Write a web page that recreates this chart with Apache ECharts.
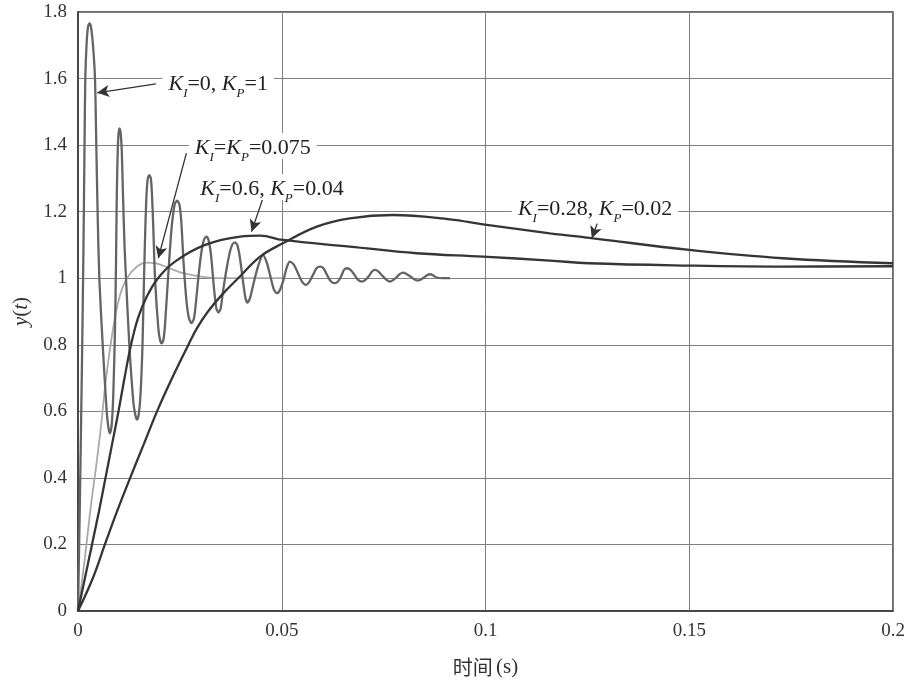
<!DOCTYPE html>
<html><head><meta charset="utf-8">
<script src="https://cdn.jsdelivr.net/npm/echarts@6/dist/echarts.min.js"></script>
<style>html,body{margin:0;padding:0;background:#fff}#c{width:912px;height:684px}</style>
</head><body><div id="c"></div>
<script>
// Axis ticks
const xTicks = [0, 0.05, 0.1, 0.15, 0.2];
const yTicks = [0, 0.2, 0.4, 0.6, 0.8, 1, 1.2, 1.4, 1.6, 1.8];

// K_I=0, K_P=1 (oscillating response)
const tA = [0, 0.00049, 0.00098, 0.00135, 0.00160, 0.00179, 0.00209, 0.00245, 0.00282, 0.00319,
  0.00368, 0.00417, 0.00449, 0.00481, 0.00523, 0.00606, 0.00704, 0.00748, 0.00785, 0.00827,
  0.00866, 0.00908, 0.00933, 0.00952, 0.00974, 0.00996, 0.01021, 0.01048, 0.01075, 0.01104,
  0.01141, 0.01178, 0.01259, 0.01357, 0.01406, 0.01448, 0.01490, 0.01534, 0.01583, 0.01620,
  0.01652, 0.01681, 0.01713, 0.01750, 0.01787, 0.01816, 0.01848, 0.01890, 0.01971, 0.02012,
  0.02054, 0.02096, 0.02135, 0.02209, 0.02282, 0.02331, 0.02380, 0.02437, 0.02491, 0.02535,
  0.02589, 0.02663, 0.02724, 0.02785, 0.02847, 0.02896, 0.02969, 0.03043, 0.03099, 0.03153,
  0.03207, 0.03264, 0.03337, 0.03394, 0.03448, 0.03502, 0.03558, 0.03649, 0.03730, 0.03791,
  0.03853, 0.03914, 0.03975, 0.04061, 0.04110, 0.04160, 0.04221, 0.04319, 0.04429, 0.04540,
  0.04638, 0.04712, 0.04810, 0.04883, 0.04957, 0.05043, 0.05129, 0.05202, 0.05301, 0.05399,
  0.05497, 0.05595, 0.05681, 0.05767, 0.05853, 0.05939, 0.06025, 0.06110, 0.06209, 0.06294,
  0.06380, 0.06454, 0.06528, 0.06601, 0.06687, 0.06785, 0.06871, 0.06969, 0.07055, 0.07129,
  0.07215, 0.07288, 0.07374, 0.07472, 0.07571, 0.07656, 0.07742, 0.07816, 0.07902, 0.07976,
  0.08061, 0.08160, 0.08258, 0.08344, 0.08417, 0.08491, 0.08564, 0.08638, 0.08712, 0.08785,
  0.08933, 0.09129];
const yA = [0, 0.35, 0.75, 1.1, 1.4, 1.6, 1.7, 1.755, 1.766, 1.755,
  1.7, 1.6, 1.4, 1.2, 1.0, 0.8, 0.6, 0.55, 0.534, 0.56,
  0.65, 0.85, 1.05, 1.25, 1.38, 1.435, 1.45, 1.435, 1.38, 1.25,
  1.1, 1.0, 0.8, 0.63, 0.59, 0.575, 0.59, 0.65, 0.8, 1.0,
  1.15, 1.25, 1.3, 1.31, 1.3, 1.25, 1.15, 1.0, 0.85, 0.815,
  0.804, 0.815, 0.86, 1.0, 1.13, 1.19, 1.225, 1.233, 1.22, 1.17,
  1.05, 0.93, 0.88, 0.865, 0.88, 0.93, 1.02, 1.09, 1.118, 1.125,
  1.113, 1.07, 0.97, 0.91, 0.897, 0.91, 0.96, 1.03, 1.08, 1.102,
  1.108, 1.098, 1.06, 0.98, 0.94, 0.927, 0.94, 0.99, 1.04, 1.07,
  1.045, 1.01, 0.965, 0.955, 0.965, 0.995, 1.035, 1.05, 1.04, 1.015,
  0.99, 0.98, 0.99, 1.01, 1.03, 1.035, 1.03, 1.01, 0.99, 0.985,
  0.99, 1.005, 1.025, 1.03, 1.025, 1.01, 0.995, 0.99, 0.995, 1.005,
  1.02, 1.025, 1.02, 1.007, 0.995, 0.99, 0.995, 1.003, 1.013, 1.017,
  1.013, 1.005, 0.996, 0.993, 0.996, 1.002, 1.009, 1.012, 1.009, 1.003,
  1.0, 1.0];

// K_I=K_P=0.075
const tB = [0, 0.0015, 0.003, 0.0045, 0.0056, 0.0068, 0.0085, 0.0101, 0.012, 0.0145, 0.0168, 0.019, 0.0225, 0.0258, 0.03, 0.035, 0.05];
const yB = [0, 0.14, 0.3, 0.44, 0.55, 0.69, 0.84, 0.94, 1.0, 1.035, 1.047, 1.045, 1.03, 1.015, 1.005, 1.0, 1.0];

// K_I=0.6, K_P=0.04
const tC = [0, 0.00172, 0.00344, 0.00515, 0.00675, 0.00834, 0.00994, 0.01141, 0.01301, 0.01472, 0.01669, 0.01963, 0.0238, 0.0312, 0.0398, 0.0447, 0.0503, 0.0667, 0.0831, 0.0994, 0.1158, 0.1254, 0.15, 0.173, 0.2];
const yC = [0, 0.1, 0.2, 0.3, 0.4, 0.5, 0.6, 0.7, 0.8, 0.88, 0.94, 1.0, 1.05, 1.1, 1.125, 1.128, 1.115, 1.095, 1.075, 1.065, 1.053, 1.045, 1.038, 1.035, 1.036];

// K_I=0.28, K_P=0.02
const tD = [0, 0.00368, 0.0066, 0.0096, 0.0128, 0.0161, 0.0194, 0.0231, 0.0271, 0.0292, 0.0319, 0.0353, 0.0393, 0.0447, 0.0503, 0.0586, 0.0667, 0.0773, 0.0913, 0.0994, 0.1158, 0.1264, 0.15, 0.173, 0.2];
const yD = [0, 0.1, 0.2, 0.3, 0.4, 0.5, 0.6, 0.7, 0.8, 0.85, 0.9, 0.95, 1.0, 1.065, 1.105, 1.155, 1.18, 1.19, 1.177, 1.162, 1.135, 1.12, 1.085, 1.06, 1.045];

const pairs = (t, y) => t.map((v, i) => [v, y[i]]);

const serif = '"Liberation Serif", "DejaVu Serif", serif';
const rich = {
  k: {fontFamily: serif, fontStyle: 'italic', fontSize: 22, color: '#222', lineHeight: 26, verticalAlign: 'bottom'},
  s: {fontFamily: serif, fontStyle: 'italic', fontSize: 13, color: '#222', lineHeight: 26, verticalAlign: 'bottom', padding: [0, 0, -5, 0]},
  n: {fontFamily: serif, fontSize: 22, color: '#222', lineHeight: 26, verticalAlign: 'bottom'}
};

function label(coord, text) {
  return {
    coord: coord, symbol: 'rect', symbolSize: 0,
    label: {show: true, position: 'inside', formatter: text, rich: rich,
      backgroundColor: '#fff', padding: [0, 6, 0, 6]}
  };
}
function arrow(from, to) {
  return [{coord: from}, {coord: to}];
}

const chart = echarts.init(document.getElementById('c'), null, {renderer: 'canvas'});
chart.setOption({
  animation: false,
  backgroundColor: '#fff',
  grid: {left: 78, right: 19, top: 12, bottom: 73, show: true, borderColor: '#3a3a3a', borderWidth: 1.5, backgroundColor: 'transparent'},
  xAxis: {
    type: 'value', min: xTicks[0], max: xTicks[xTicks.length - 1], interval: xTicks[1] - xTicks[0],
    axisLine: {show: true, lineStyle: {color: '#3a3a3a', width: 1.5}},
    axisTick: {show: false},
    splitLine: {show: true, lineStyle: {color: '#808080', width: 1}},
    axisLabel: {fontFamily: serif, fontSize: 19, color: '#333', margin: 11,
      formatter: v => String(+v.toFixed(2))},
    name: '{c|时间} {n|(s)}', nameLocation: 'middle', nameGap: 46,
    nameTextStyle: {rich: {c: {fontFamily: '"Noto Sans CJK SC"', fontSize: 20, color: '#333'}, n: {fontFamily: serif, fontSize: 21, color: '#333'}}}
  },
  yAxis: {
    type: 'value', min: yTicks[0], max: yTicks[yTicks.length - 1], interval: +(yTicks[1] - yTicks[0]).toFixed(2),
    axisLine: {show: true, lineStyle: {color: '#3a3a3a', width: 1.5}},
    axisTick: {show: false},
    splitLine: {show: true, lineStyle: {color: '#808080', width: 1}},
    axisLabel: {fontFamily: serif, fontSize: 19, color: '#333', margin: 11,
      formatter: v => String(+v.toFixed(2))},
    name: '{i|y}{n|(}{i|t}{n|)}', nameLocation: 'middle', nameGap: 46,
    nameTextStyle: {rich: {i: {fontFamily: serif, fontStyle: 'italic', fontSize: 21, color: '#333'}, n: {fontFamily: serif, fontSize: 21, color: '#333'}}}
  },
  series: [
    {name: 'KI=0,KP=1', type: 'line', data: pairs(tA, yA), showSymbol: false, smooth: 0.25,
      lineStyle: {color: '#646464', width: 2.3}, z: 3},
    {name: 'KI=KP=0.075', type: 'line', data: pairs(tB, yB), showSymbol: false, smooth: 0.4,
      lineStyle: {color: '#a9a9a9', width: 1.8}, z: 2},
    {name: 'KI=0.6,KP=0.04', type: 'line', data: pairs(tC, yC), showSymbol: false, smooth: 0.4,
      lineStyle: {color: '#353535', width: 2.3}, z: 4},
    {name: 'KI=0.28,KP=0.02', type: 'line', data: pairs(tD, yD), showSymbol: false, smooth: 0.4,
      lineStyle: {color: '#353535', width: 2.3}, z: 4,
      markLine: {
        silent: true, symbol: ['none', 'arrow'], symbolSize: [9, 12],
        lineStyle: {color: '#333', width: 1.3, type: 'solid'}, label: {show: false},
        data: [
          arrow([0.0191, 1.584], [0.0047, 1.557]),
          arrow([0.0266, 1.376], [0.0197, 1.060]),
          arrow([0.0454, 1.241], [0.0426, 1.14]),
          arrow([0.1274, 1.164], [0.1261, 1.12])
        ]
      },
      markPoint: {
        silent: true,
        data: [
          label([0.0344, 1.5895], '{k|K}{s|I}{n|=0, }{k|K}{s|P}{n|=1}'),
          label([0.0429, 1.397], '{k|K}{s|I}{n|=}{k|K}{s|P}{n|=0.075}'),
          label([0.0476, 1.274], '{k|K}{s|I}{n|=0.6, }{k|K}{s|P}{n|=0.04}'),
          label([0.1269, 1.214], '{k|K}{s|I}{n|=0.28, }{k|K}{s|P}{n|=0.02}')
        ]
      }
    }
  ]
});
</script></body></html>
